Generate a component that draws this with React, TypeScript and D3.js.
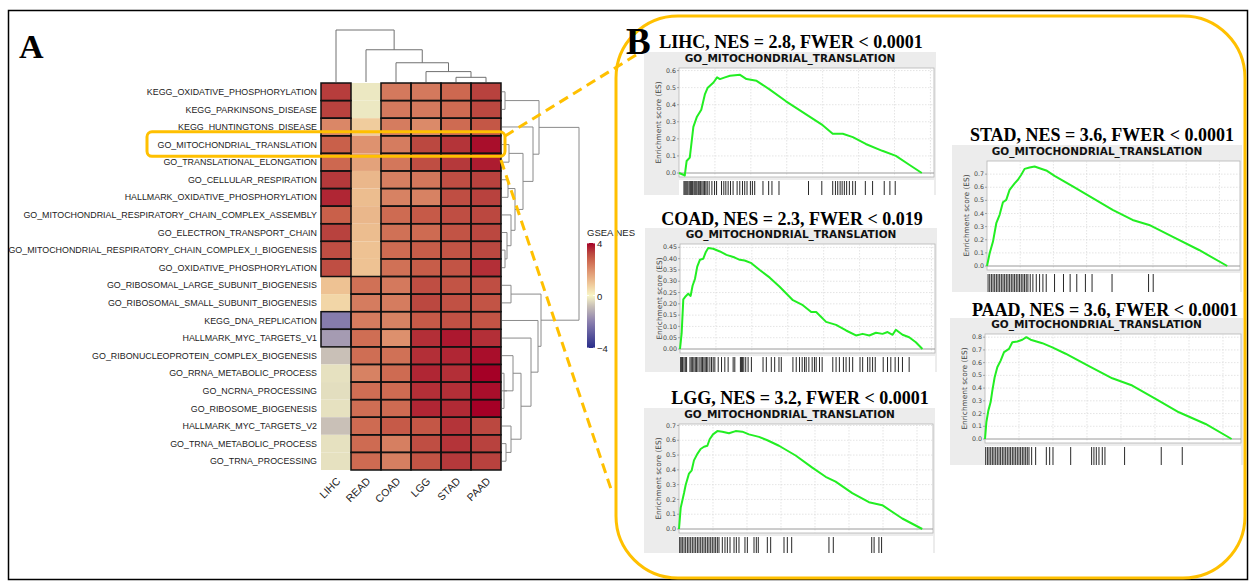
import React from "react";
import * as d3 from "d3";

// ---------- heatmap data ----------
const rowNames = [
  "KEGG_OXIDATIVE_PHOSPHORYLATION",
  "KEGG_PARKINSONS_DISEASE",
  "KEGG_HUNTINGTONS_DISEASE",
  "GO_MITOCHONDRIAL_TRANSLATION",
  "GO_TRANSLATIONAL_ELONGATION",
  "GO_CELLULAR_RESPIRATION",
  "HALLMARK_OXIDATIVE_PHOSPHORYLATION",
  "GO_MITOCHONDRIAL_RESPIRATORY_CHAIN_COMPLEX_ASSEMBLY",
  "GO_ELECTRON_TRANSPORT_CHAIN",
  "GO_MITOCHONDRIAL_RESPIRATORY_CHAIN_COMPLEX_I_BIOGENESIS",
  "GO_OXIDATIVE_PHOSPHORYLATION",
  "GO_RIBOSOMAL_LARGE_SUBUNIT_BIOGENESIS",
  "GO_RIBOSOMAL_SMALL_SUBUNIT_BIOGENESIS",
  "KEGG_DNA_REPLICATION",
  "HALLMARK_MYC_TARGETS_V1",
  "GO_RIBONUCLEOPROTEIN_COMPLEX_BIOGENESIS",
  "GO_RRNA_METABOLIC_PROCESS",
  "GO_NCRNA_PROCESSING",
  "GO_RIBOSOME_BIOGENESIS",
  "HALLMARK_MYC_TARGETS_V2",
  "GO_TRNA_METABOLIC_PROCESS",
  "GO_TRNA_PROCESSING",
];
const colNames = ["LIHC", "READ", "COAD", "LGG", "STAD", "PAAD"];

const nesLIHC = [3.35, 3.3, 2.1, 2.8, 2.65, 3.4, 3.6, 2.8, 3.3, 3.1, 3.1, 1.0, 0.6, -2.1, -1.5, -0.8, -0.3, -0.35, -0.3, -0.8, -0.3, -0.3];
const nesREAD = [-0.2, -0.2, 0.8, 1.9, 1.6, 1.2, 1.1, 1.2, 1.1, 1.0, 1.0, 2.5, 2.3, 2.3, 2.55, 2.55, 2.2, 2.55, 2.55, 2.6, 2.6, 2.6];
const nesCOAD = [2.35, 2.35, 2.3, 2.3, 2.4, 2.25, 2.2, 2.6, 2.5, 2.6, 2.5, 2.35, 2.3, 2.2, 1.95, 2.5, 2.6, 2.6, 2.6, 2.9, 2.25, 2.25];
const nesLGG = [2.35, 2.35, 2.05, 3.2, 3.1, 2.4, 2.2, 2.9, 2.6, 2.85, 2.85, 3.1, 3.2, 2.9, 3.5, 3.5, 3.6, 3.5, 3.6, 2.95, 3.1, 3.0];
const nesSTAD = [2.65, 2.6, 2.6, 3.45, 3.4, 3.1, 3.1, 3.1, 3.0, 3.0, 3.0, 3.0, 3.05, 3.05, 3.75, 3.6, 3.5, 3.5, 3.55, 3.45, 3.45, 3.4];
const nesPAAD = [3.3, 3.2, 2.95, 3.85, 3.7, 3.3, 3.3, 3.2, 3.2, 3.2, 3.5, 3.1, 3.0, 3.0, 3.5, 3.85, 4.0, 3.85, 4.0, 3.2, 3.3, 3.3];
const nesByCol = [nesLIHC, nesREAD, nesCOAD, nesLGG, nesSTAD, nesPAAD];

// 1 = outlined (significant) cell
const sigLIHC = [1, 1, 1, 1, 1, 1, 1, 1, 1, 1, 1, 0, 0, 1, 1, 0, 0, 0, 0, 0, 0, 0];
const sigREAD = [0, 0, 0, 0, 0, 0, 0, 0, 0, 0, 0, 1, 1, 1, 1, 1, 1, 1, 1, 1, 1, 1];
const sigAll = rowNames.map(() => 1);
const sigByCol = [sigLIHC, sigREAD, sigAll, sigAll, sigAll, sigAll];

// dendrograms: [left, right, height]; numbers are leaves, "mN" is merge N
type Ref = number | string;
const colMerges: [Ref, Ref, number][] = [
  [4, 5, 0.09],
  [3, "m0", 0.2],
  [2, "m1", 0.37],
  [1, "m2", 0.62],
  [0, "m3", 1.0],
];
const rowMerges: [Ref, Ref, number][] = [
  [0, 1, 0.3],
  [3, 4, 0.7],
  [5, 6, 0.6],
  [9, 10, 0.3],
  [8, "m3", 0.5],
  [7, "m4", 0.9],
  ["m2", "m5", 1.3],
  ["m1", "m6", 2.1],
  [2, "m7", 3.1],
  ["m0", "m8", 3.7],
  [11, 12, 0.9],
  [16, 18, 0.2],
  [17, "m11", 0.5],
  [15, "m12", 1.1],
  [20, 21, 0.4],
  [19, "m14", 0.9],
  ["m13", "m15", 1.9],
  [14, "m16", 2.9],
  [13, "m17", 3.6],
  ["m10", "m18", 3.9],
  ["m9", "m19", 7.7],
];

const legendTicks = [4, 0, -4];

// ---------- GSEA data (rank in thousands, ES) ----------
const panelNames = ["LIHC", "COAD", "LGG", "STAD", "PAAD"];
const panelNES = ["2.8", "2.3", "3.2", "3.6", "3.6"];
const panelFWER = ["0.0001", "0.019", "0.0001", "0.0001", "0.0001"];
const geneSetName = "GO_MITOCHONDRIAL_TRANSLATION";
const rankMax = [35.5, 35.5, 37.35, 38.1, 37.65];
const esTop = [0.615, 0.465, 0.71, 0.8, 0.825];
const esTicksLIHC = [0, 0.1, 0.2, 0.3, 0.4, 0.5, 0.6];
const esTicksCOAD = [0, 0.05, 0.1, 0.15, 0.2, 0.25, 0.3, 0.35, 0.4, 0.45];
const esTicksLGG = [0, 0.1, 0.2, 0.3, 0.4, 0.5, 0.6, 0.7];
const esTicksSTAD = [0, 0.1, 0.2, 0.3, 0.4, 0.5, 0.6, 0.7];
const esTicksPAAD = [0, 0.1, 0.2, 0.3, 0.4, 0.5, 0.6, 0.7, 0.8];

const esLIHC: [number, number][] = [
  [0, 0], [0.6, -0.01], [0.8, -0.015], [1.06, 0.07], [1.5, 0.09], [2.0, 0.27], [2.5, 0.33], [3.1, 0.37],
  [3.6, 0.46], [4.0, 0.5], [4.8, 0.53], [5.3, 0.56], [5.7, 0.55], [6.4, 0.56], [7.1, 0.57], [8.5, 0.575],
  [9.4, 0.55], [10.8, 0.54], [12.6, 0.49], [14.9, 0.42], [17.8, 0.34], [20.0, 0.28], [21.4, 0.23],
  [22.8, 0.23], [24.2, 0.21], [26.0, 0.17], [28.3, 0.13], [30.2, 0.1], [32.0, 0.05], [33.8, 0],
];
const esCOAD: [number, number][] = [
  [0, 0], [0.23, 0.07], [0.46, 0.22], [0.7, 0.23], [1.15, 0.245], [1.48, 0.235], [1.75, 0.28], [2.08, 0.31],
  [2.4, 0.365], [2.77, 0.395], [3.24, 0.4], [3.6, 0.43], [3.93, 0.447], [4.62, 0.444], [5.55, 0.432],
  [6.47, 0.417], [7.63, 0.405], [8.32, 0.395], [9.0, 0.392], [9.94, 0.38], [11.1, 0.35], [12.5, 0.316],
  [13.87, 0.276], [15.72, 0.216], [17.1, 0.194], [18.27, 0.164], [18.96, 0.164], [20.34, 0.12],
  [21.73, 0.107], [23.12, 0.082], [24.5, 0.06], [25.43, 0.067], [26.35, 0.06], [27.28, 0.072],
  [28.2, 0.067], [28.9, 0.075], [29.6, 0.063], [30.05, 0.085], [30.98, 0.063], [31.9, 0.052],
  [32.83, 0.03], [33.75, 0],
];
const esLGG: [number, number][] = [
  [0, 0], [0.25, 0.143], [0.74, 0.243], [0.98, 0.298], [1.47, 0.375], [1.87, 0.397], [2.2, 0.464],
  [2.7, 0.508], [3.18, 0.541], [3.68, 0.556], [4.17, 0.563], [4.51, 0.607], [5.0, 0.64], [5.64, 0.662],
  [6.37, 0.658], [7.35, 0.647], [8.33, 0.662], [9.31, 0.658], [10.29, 0.64], [11.76, 0.623], [12.99, 0.6],
  [14.7, 0.563], [17.15, 0.497], [19.6, 0.415], [21.56, 0.353], [23.03, 0.32], [25.48, 0.243],
  [27.93, 0.181], [29.89, 0.161], [32.83, 0.071], [35.77, 0],
];
const esSTAD: [number, number][] = [
  [0, 0], [0.4, 0.097], [0.9, 0.186], [1.4, 0.326], [1.9, 0.39], [2.4, 0.486], [2.9, 0.504], [3.4, 0.58],
  [4.16, 0.63], [4.66, 0.657], [5.16, 0.695], [5.66, 0.74], [6.41, 0.75], [7.17, 0.758], [7.92, 0.745],
  [8.92, 0.728], [10.17, 0.687], [12.92, 0.606], [15.92, 0.517], [18.92, 0.428], [21.92, 0.351],
  [24.42, 0.313], [27.92, 0.224], [31.93, 0.122], [36.18, 0],
];
const esPAAD: [number, number][] = [
  [0, 0], [0.2, 0.131], [0.49, 0.223], [0.83, 0.29], [1.08, 0.38], [1.42, 0.485], [1.81, 0.564], [2.3, 0.616],
  [2.8, 0.682], [3.53, 0.708], [4.02, 0.76], [4.76, 0.766], [5.49, 0.78], [6.08, 0.8], [6.71, 0.78],
  [7.45, 0.768], [8.43, 0.753], [9.9, 0.72], [11.86, 0.67], [15.29, 0.572], [18.72, 0.477], [21.66, 0.42],
  [25.09, 0.315], [28.52, 0.21], [32.44, 0.118], [36.27, 0],
];

const hitsLIHC = [
  0.69, 0.83, 0.97, 1.11, 1.25, 1.43, 1.62, 1.76, 1.9, 2.08, 2.22, 2.36, 2.5, 2.68, 2.82, 3.01, 3.19, 3.37,
  3.56, 3.74, 3.93, 4.2, 4.58, 4.95, 5.23, 5.92, 6.24, 6.52, 6.84, 7.17, 7.53, 8.09, 8.46, 8.84, 9.15, 9.47,
  9.94, 10.22, 10.54, 11.69, 12.48, 12.94, 13.92, 18.03, 19.88, 21.4, 21.78, 22.1, 22.43, 22.71, 23.02,
  23.34, 23.72, 24.18, 24.55, 25.94, 26.95, 28.57, 29.36, 30.1,
];
const hitsCOAD = [
  0.09, 0.23, 0.36, 0.55, 0.74, 0.92, 1.39, 1.57, 1.76, 1.94, 2.13, 2.31, 2.5, 2.77, 2.96, 3.14, 3.33, 3.51,
  3.7, 3.88, 4.16, 4.39, 4.62, 4.85, 5.32, 5.78, 6.24, 6.7, 7.4, 7.63, 8.41, 8.55, 8.69, 8.88, 9.15, 9.48,
  9.94, 11.56, 12.02, 12.71, 13.18, 13.78, 14.1, 15.72, 16.18, 16.64, 17.01, 17.34, 17.57, 17.94, 18.4,
  18.72, 18.96, 19.42, 19.79, 21.27, 21.73, 22.19, 22.75, 23.12, 23.58, 24.04, 25.06, 25.43, 26.12, 26.44,
  26.81, 27.18, 28.29, 28.89, 29.35, 29.95, 30.41, 30.97, 31.9,
];
const hitsLGG = [
  0.1, 0.29, 0.49, 0.74, 0.98, 1.23, 1.47, 1.72, 1.96, 2.21, 2.45, 2.7, 2.94, 3.19, 3.43, 3.68, 3.92, 4.17,
  4.41, 4.66, 4.9, 5.15, 5.39, 5.64, 5.88, 6.37, 6.76, 7.11, 7.5, 8.09, 8.43, 8.82, 9.7, 10.05, 11.03,
  11.37, 11.66, 12.99, 13.48, 15.44, 15.93, 16.57, 22.05, 22.69, 28.34, 28.69, 29.4, 29.79,
];
const hitsSTAD = [
  0.16, 0.41, 0.66, 0.91, 1.16, 1.41, 1.66, 1.91, 2.16, 2.41, 2.66, 2.91, 3.16, 3.41, 3.66, 3.91, 4.16,
  4.41, 4.66, 4.91, 5.16, 5.41, 5.66, 5.91, 6.16, 6.51, 6.91, 7.42, 7.92, 8.42, 8.92, 10.17, 11.52, 12.52,
  13.52, 14.82, 15.82, 18.83, 24.33, 25.03,
];
const hitsPAAD = [
  0.1, 0.35, 0.59, 0.84, 1.08, 1.32, 1.57, 1.81, 2.06, 2.3, 2.55, 2.79, 3.04, 3.28, 3.53, 3.77, 4.02, 4.26,
  4.51, 4.75, 5.0, 5.24, 5.49, 5.73, 5.98, 6.22, 6.47, 6.86, 7.45, 9.02, 9.51, 10.0, 12.6, 15.68, 16.02,
  16.37, 16.76, 17.25, 17.64, 20.53, 25.92, 29.01,
];

const esCurves = [esLIHC, esCOAD, esLGG, esSTAD, esPAAD];
const esHits = [hitsLIHC, hitsCOAD, hitsLGG, hitsSTAD, hitsPAAD];
const esTicks = [esTicksLIHC, esTicksCOAD, esTicksLGG, esTicksSTAD, esTicksPAAD];

// ---------- layout ----------
const W = 1250;
const H = 582;
const GOLD = "#FFC000";
const heat = { left: 321, right: 501, top: 83, bottom: 470 };
const panelBoxes = [
  { x: 644, y: 52, w: 292, h: 143, hx: 791, hy: 48 },
  { x: 645, y: 228, w: 292, h: 144, hx: 792, hy: 225 },
  { x: 644, y: 408, w: 291, h: 145, hx: 800, hy: 404 },
  { x: 952, y: 145, w: 290, h: 147, hx: 1102, hy: 141 },
  { x: 950, y: 318, w: 293, h: 147, hx: 1105, hy: 316 },
];

const color = d3
  .scaleLinear<string>()
  .domain([-4, -2, -0.8, 0, 1, 2, 2.8, 3.3, 4])
  .range(["#2a2d8a", "#8b80ae", "#c9c0b7", "#f8f5c6", "#eec293", "#dc8d6b", "#c9604a", "#b8423e", "#a50026"])
  .clamp(true);

function treeSegments(merges: [Ref, Ref, number][], leafPos: (i: number) => number) {
  const nodes: Record<string, { p: number; h: number }> = {};
  const get = (r: Ref) => (typeof r === "number" ? { p: leafPos(r), h: 0 } : nodes[r]);
  return merges.map(([a, b, h], i) => {
    const A = get(a);
    const B = get(b);
    nodes["m" + i] = { p: (A.p + B.p) / 2, h };
    return { A, B, h };
  });
}

function GseaPanel({ i }: { i: number }) {
  const b = panelBoxes[i];
  const plotLeft = b.x + 35;
  const plotRight = b.x + b.w - 2;
  const plotTop = b.y + 16;
  const zeroY = b.y + 121;
  const plotBottom = zeroY + 4;
  const hitTop = zeroY + 7;
  const hitBottom = b.y + b.h;
  const xs = d3.scaleLinear().domain([0, rankMax[i]]).range([plotLeft, plotRight]);
  const ys = d3.scaleLinear().domain([0, esTop[i]]).range([zeroY, plotTop]);
  const line = d3
    .line<[number, number]>()
    .x((d) => xs(d[0]))
    .y((d) => ys(d[1]));
  const fmt = i === 1 ? d3.format(".2f") : d3.format(".1f");
  const midY = (plotTop + plotBottom) / 2;
  return (
    <g>
      <text x={b.hx} y={b.hy} textAnchor="middle"
        style={{ fontFamily: "'Liberation Serif', 'Times New Roman', serif", fontWeight: "bold", fontSize: 18 }}>
        {`${panelNames[i]}, NES = ${panelNES[i]}, FWER < ${panelFWER[i]}`}
      </text>
      <rect x={b.x} y={b.y} width={b.w} height={b.h} fill="#ececec" />
      <text x={b.x + b.w / 2} y={b.y + 10} textAnchor="middle"
        style={{ fontFamily: "'DejaVu Sans', sans-serif", fontWeight: "bold", fontSize: 10.5, fill: "#111" }}>
        {geneSetName}
      </text>
      <rect x={plotLeft} y={plotTop} width={plotRight - plotLeft} height={plotBottom - plotTop}
        fill="white" stroke="#b5b5b5" strokeWidth={0.8} />
      {xs.ticks(7).filter((t) => t > 0).map((t) => (
        <line key={"gx" + t} x1={xs(t)} x2={xs(t)} y1={plotTop} y2={plotBottom}
          stroke="#d8d8d8" strokeWidth={0.7} strokeDasharray="1.5,1.5" />
      ))}
      {esTicks[i].filter((t) => t > 0).map((t) => (
        <line key={"gy" + t} x1={plotLeft} x2={plotRight} y1={ys(t)} y2={ys(t)}
          stroke="#d8d8d8" strokeWidth={0.7} strokeDasharray="1.5,1.5" />
      ))}
      <line x1={plotLeft} x2={plotRight} y1={zeroY} y2={zeroY} stroke="#9a9a9a" strokeWidth={1} />
      {esTicks[i].map((t) => (
        <g key={"t" + t} transform={`translate(${plotLeft},${ys(t)})`}>
          <line x1={-2} x2={0} stroke="#888" strokeWidth={0.7} />
          <text x={-3} dy="0.33em" textAnchor="end"
            style={{ fontFamily: "'DejaVu Sans', sans-serif", fontSize: 6.3, fill: "#444" }}>
            {fmt(t)}
          </text>
        </g>
      ))}
      <text transform={`translate(${b.x + 17},${midY}) rotate(-90)`} textAnchor="middle"
        style={{ fontFamily: "'DejaVu Sans', sans-serif", fontSize: 7.4, fill: "#444" }}>
        Enrichment score (ES)
      </text>
      <path d={line(esCurves[i]) || ""} fill="none" stroke="#22ee22" strokeWidth={2} strokeLinejoin="round" />
      <rect x={plotLeft} y={hitTop} width={plotRight - plotLeft} height={hitBottom - hitTop} fill="white" />
      {esHits[i].map((r, k) => (
        <line key={"h" + k} x1={xs(r)} x2={xs(r)} y1={hitTop + 1} y2={hitBottom} stroke="#111" strokeWidth={0.9} />
      ))}
    </g>
  );
}

export default function App() {
  const xBand = d3.scaleBand<string>().domain(colNames).range([heat.left, heat.right]);
  const yBand = d3.scaleBand<string>().domain(rowNames).range([heat.top, heat.bottom]);
  const cw = xBand.bandwidth();
  const ch = yBand.bandwidth();
  const colCenter = (i: number) => (xBand(colNames[i]) as number) + cw / 2;
  const rowCenter = (i: number) => (yBand(rowNames[i]) as number) + ch / 2;

  const colH = d3.scaleLinear().domain([0, 1]).range([heat.top - 1, 30]);
  const rowH = d3.scaleLinear().domain([0, 8]).range([heat.right + 1, heat.right + 81]);
  const colSegs = treeSegments(colMerges, colCenter);
  const rowSegs = treeSegments(rowMerges, rowCenter);

  const cells = colNames.flatMap((c, ci) =>
    rowNames.map((r, ri) => ({
      x: xBand(c) as number,
      y: yBand(r) as number,
      v: nesByCol[ci][ri],
      sig: sigByCol[ci][ri] === 1,
    }))
  );

  const legY = d3.scaleLinear().domain([-4, 4]).range([348, 243]);
  const gradStops = d3.range(0, 1.0001, 0.05);

  const hlRow = yBand("GO_MITOCHONDRIAL_TRANSLATION") as number;
  const hl = { x: 147, y: hlRow - 4, w: heat.right + 4 - 147, h: ch + 7 };

  const sans = "'Liberation Sans', Arial, sans-serif";

  return (
    <svg width={W} height={H} style={{ position: "absolute", left: 0, top: 0, background: "white" }}>
      <defs>
        <linearGradient id="leg" x1="0" y1="1" x2="0" y2="0">
          {gradStops.map((t) => (
            <stop key={t} offset={t} stopColor={color(-4 + 8 * t)} />
          ))}
        </linearGradient>
      </defs>
      <rect x={8.5} y={10.5} width={1239} height={569} fill="none" stroke="#000" strokeWidth={1.5} />

      <text x={19} y={58} style={{ fontFamily: "'Liberation Serif', serif", fontWeight: "bold", fontSize: 34 }}>A</text>

      {/* column dendrogram */}
      {colSegs.map((s, k) => (
        <path key={"cd" + k}
          d={`M${s.A.p},${colH(s.A.h)}V${colH(s.h)}H${s.B.p}V${colH(s.B.h)}`}
          fill="none" stroke="#707070" strokeWidth={1} />
      ))}
      {/* row dendrogram */}
      {rowSegs.map((s, k) => (
        <path key={"rd" + k}
          d={`M${rowH(s.A.h)},${s.A.p}H${rowH(s.h)}V${s.B.p}H${rowH(s.B.h)}`}
          fill="none" stroke="#8a8a8a" strokeWidth={1} />
      ))}

      {/* heatmap cells */}
      {cells.map((c, k) => (
        <rect key={"c" + k} x={c.x} y={c.y} width={cw} height={ch} fill={color(c.v)} />
      ))}
      {cells.filter((c) => c.sig).map((c, k) => (
        <rect key={"s" + k} x={c.x} y={c.y} width={cw} height={ch} fill="none" stroke="#111" strokeWidth={1.5} />
      ))}

      {rowNames.map((r, i) => (
        <text key={r} x={heat.left - 4} y={rowCenter(i)} dy="0.35em" textAnchor="end"
          style={{ fontFamily: sans, fontSize: 8.9, fill: "#222" }}>
          {r}
        </text>
      ))}
      {colNames.map((c, i) => (
        <text key={c} transform={`translate(${colCenter(i) + 5},${heat.bottom + 12}) rotate(-45)`} textAnchor="end"
          style={{ fontFamily: sans, fontSize: 10.5, fill: "#222" }}>
          {c}
        </text>
      ))}

      {/* legend */}
      <text x={587} y={236} style={{ fontFamily: sans, fontSize: 9.5, fill: "#222" }}>GSEA NES</text>
      <rect x={587} y={243} width={8} height={105} fill="url(#leg)" />
      {legendTicks.map((t) => (
        <g key={"lt" + t}>
          <line x1={587} x2={589} y1={legY(t)} y2={legY(t)} stroke="white" strokeWidth={0.8} />
          <line x1={593} x2={595} y1={legY(t)} y2={legY(t)} stroke="white" strokeWidth={0.8} />
          <text x={597} y={legY(t) + 1} dy="0.35em" style={{ fontFamily: sans, fontSize: 9.5, fill: "#222" }}>
            {t < 0 ? `\u2212${-t}` : String(t)}
          </text>
        </g>
      ))}

      {/* highlight + zoom lines */}
      <rect x={hl.x} y={hl.y} width={hl.w} height={hl.h} rx={5} fill="none" stroke={GOLD} strokeWidth={3} />
      <line x1={505} y1={136} x2={641} y2={52} stroke={GOLD} strokeWidth={3} strokeDasharray="10,6" />
      <line x1={501} y1={160} x2={612} y2={492} stroke={GOLD} strokeWidth={3} strokeDasharray="10,6" />

      {/* panel B */}
      {panelNames.map((_, i) => (
        <GseaPanel key={i} i={i} />
      ))}
      <rect x={616} y={16} width={629} height={562} rx={62} fill="none" stroke={GOLD} strokeWidth={3} />
      <text x={626} y={54} style={{ fontFamily: "'Liberation Serif', serif", fontWeight: "bold", fontSize: 37 }}>B</text>
    </svg>
  );
}
